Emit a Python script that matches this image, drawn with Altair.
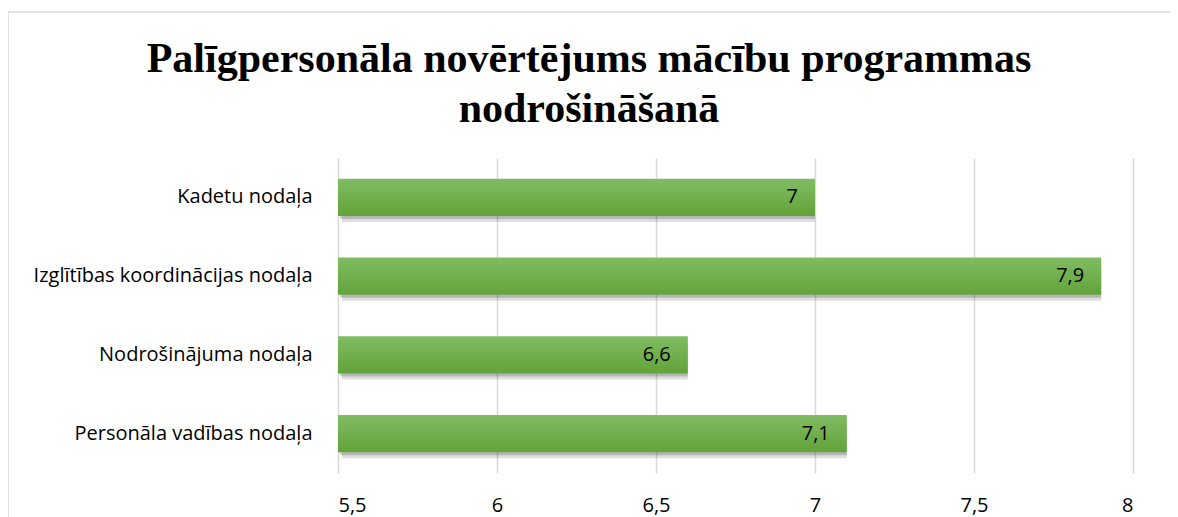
import altair as alt
import pandas as pd

categories = ["Kadetu nodaļa", "Izglītības koordinācijas nodaļa", "Nodrošinājuma nodaļa\u00a0", "Personāla vadības nodaļa"]
values = [7.0, 7.9, 6.6, 7.1]
ticks = [5.5, 6.0, 6.5, 7.0, 7.5, 8.0]
base_value = 5.5
title_lines = ["Palīgpersonāla novērtējums mācību programmas", "nodrošināšanā"]

df = pd.DataFrame({"cat": categories, "val": values})
df["base"] = base_value
df["lab"] = [("%g" % v).replace(".", ",") for v in values]

W, H = 795, 315
PL, PT = 330, 150

y_enc = alt.Y("cat:N", sort=categories, title=None,
              scale=alt.Scale(paddingInner=0.53, paddingOuter=0.265),
              axis=alt.Axis(ticks=False, domain=False, labelPadding=26, labelFontSize=20,
                            labelFont="Open Sans", labelColor="#000000", grid=False,
                            labelLimit=0))
x_enc = alt.X("val:Q", title=None,
              scale=alt.Scale(domain=[5.5, 8], zero=False, nice=False),
              axis=alt.Axis(values=ticks, ticks=False, domain=False, labelPadding=22,
                            labelFontSize=20, labelFont="Open Sans", labelColor="#000000",
                            grid=True, gridColor="#d9d9d9", gridWidth=1.5,
                            labelExpr="replace(format(datum.value, '~g'), '.', ',')"))

grad = alt.Gradient(gradient="linear", x1=0, x2=0, y1=0, y2=1,
                    stops=[alt.GradientStop(color="#80bc62", offset=0),
                           alt.GradientStop(color="#62a33a", offset=1)])

base = alt.Chart(df)

shadow1 = base.mark_bar(color="#000000", opacity=0.13, yOffset=6, x2Offset=4).encode(
    y=y_enc, x=x_enc, x2="base:Q")
shadow2 = base.mark_bar(color="#000000", opacity=0.18, yOffset=3, x2Offset=2).encode(
    y=y_enc, x=x_enc, x2="base:Q")
bars = base.mark_bar(color=grad).encode(y=y_enc, x=x_enc, x2="base:Q")
text = base.mark_text(align="right", dx=-17, fontSize=20, font="Open Sans", color="#000000",
                      baseline="middle").encode(y=y_enc, x=x_enc, text="lab:N")

one = pd.DataFrame({"k": [0]})
frame_top = alt.Chart(one).mark_rule(color="#d9d9d9", strokeWidth=1.5).encode(
    x=alt.value(-PL), x2=alt.value(W + 40), y=alt.value(-146))
frame_left = alt.Chart(one).mark_rule(color="#d9d9d9", strokeWidth=1.5).encode(
    x=alt.value(-PL), y=alt.value(-146), y2=alt.value(H + 45))

tdf = pd.DataFrame({"t": title_lines, "row": [0, 1]})
title1 = alt.Chart(tdf).transform_filter("datum.row == 0").mark_text(
    font="Liberation Serif", fontSize=42, fontWeight="bold", color="#000000",
    align="center", baseline="alphabetic").encode(
    x=alt.value(251), y=alt.value(-86), text="t:N")
title2 = alt.Chart(tdf).transform_filter("datum.row == 1").mark_text(
    font="Liberation Serif", fontSize=42, fontWeight="bold", color="#000000",
    align="center", baseline="alphabetic").encode(
    x=alt.value(251), y=alt.value(-36), text="t:N")

chart = alt.layer(frame_top, frame_left, shadow2, shadow1, bars, text, title1, title2).properties(
    width=W, height=H,
    autosize=alt.AutoSizeParams(type="none"),
    padding={"left": PL, "top": PT, "right": 37, "bottom": 44},
).configure_view(stroke=None)

chart.save("out.html", embed_options={"renderer": "svg", "actions": False})
